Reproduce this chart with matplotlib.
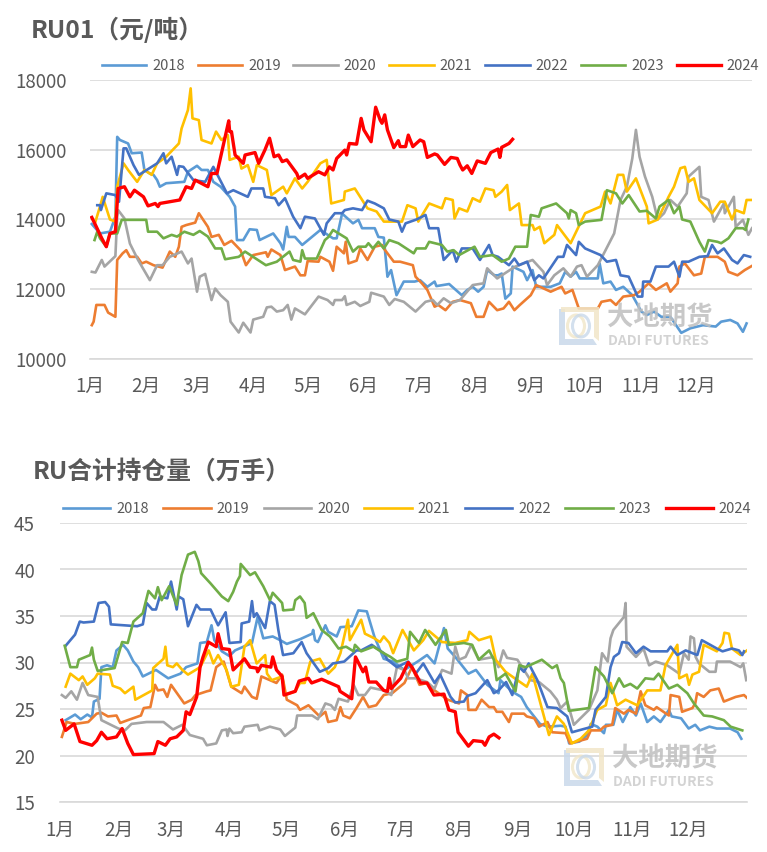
import matplotlib
matplotlib.use('Agg')
import matplotlib.pyplot as plt
from matplotlib.patches import Polygon, Ellipse
from matplotlib.transforms import IdentityTransform

plt.rcParams['font.family'] = ['Noto Sans CJK SC', 'DejaVu Sans']

months = ['1月', '2月', '3月', '4月', '5月', '6月', '7月', '8月', '9月', '10月', '11月', '12月']
month_start = [0, 31, 59, 90, 120, 151, 181, 212, 243, 273, 304, 334]
years = ['2018', '2019', '2020', '2021', '2022', '2023', '2024']
colors = ['#5B9BD5', '#ED7D31', '#A5A5A5', '#FFC000', '#4472C4', '#70AD47', '#FF0000']

# RU01 价格 (元/吨), 横轴为一年中的第几天
p18_d = [1,5.5,11,14,15,16.5,21,23,28.5,30,33,35,37,38.5,42,52,54,59,61.5,65,68,72,77,80,81,84.5,88,92,93.5,101,105,106.5,108.5,109.5,113,117,127,134,136,139,145,148,150,157,159,162,164,166,169,173,179,182,186,190,191,198,205,208,211,214,217,219,223,225,227,229,232,233,239,241,244,246,254,259,262,265,268,270,280,281,283,287,290,294,299,304,307,311,315,320,326,331,338,345,348,353,357,360,362]
p18_v = [13870,13600,13650,14080,16370,16280,16180,15900,15920,15420,15320,15280,15130,14940,15040,15080,15370,15540,15420,15420,15080,14940,14650,14370,13410,13410,13720,13700,13410,13600,13320,13140,13790,13500,13500,13270,13700,13460,13460,14170,13890,13990,13750,13750,13500,13480,12360,12550,11830,12220,12220,12260,12070,12220,12090,12150,11830,11980,12070,11930,12070,12550,12400,12400,12450,11730,11880,12650,12500,12260,12550,12070,12070,12170,12500,12360,12500,12310,12310,12740,12170,12220,11980,12070,11830,11360,11260,11360,11210,11210,10750,10880,10970,10930,11070,11120,11020,10780,11020]
p19_d = [1,2,3.5,8,10,14,15,18,20,22,26,28.5,31,35,40,44,47,49,50.5,53,58,60,65,67,71,74,78,83,86,90,97,98,100,105,107.5,113,116,118.5,120,126,127,132,134,136,140,141,142.5,147,149,153,157,161,162,164,167.5,171,178,179.5,183,186,190,192,196,200,204,210,213,217,220,224.5,228,231,234,237,243,246,254,260,262,266,269.5,280,282,287,290,294,300,303,308,312,318,320,324,325,328,333,337,339,346,350,352,357,361,365]
p19_v = [10970,11070,11550,11550,11330,11210,12840,13030,13120,12930,12930,12740,12790,12690,12620,13080,12930,13220,13790,13840,13910,14180,13790,13500,13560,13270,13390,13120,12690,12980,13060,12930,13140,12980,12550,12650,12400,12400,12810,12790,12930,12790,12530,13220,13030,13360,12740,12820,13170,12840,13220,13270,13170,13030,12790,12790,12690,12360,12170,11980,11500,11550,11400,11640,11690,11600,11210,11210,11640,11400,11450,11640,11400,11550,11830,12120,11930,12070,11880,11980,11450,11450,11640,11690,11550,11790,11830,11930,12170,11980,12170,11930,12170,12650,12740,12400,12450,12930,12930,12790,12500,12400,12550,12670]
p20_d = [1,3,6.5,8,14,15,15.5,19,22,26.5,33,37,40,44,50.5,54,56,59,60.5,63.5,67,69,72,76,77.5,82,84.5,88.5,90,95.5,97.5,100,103,106.5,109,111,113,118.5,126,131,134,135,139,140.5,141.5,146,149,154,155,162,165,168,173,179.5,185,189,191.5,195,199,204,211,217,219,224.5,230,234.5,244,250,252,256,261,265,268.5,271,274,280,289,292.5,296,299,301,303,306,310,313,316.5,320,324,329,330,336,337,341,344,347,349.5,350,355,356,360,363,365]
p20_v = [12500,12480,12840,12650,12950,14080,14270,14030,13310,12840,12260,12690,12690,12930,13080,12740,12880,11930,12360,12440,11690,12020,11830,11640,11070,10760,11040,10760,11130,11210,11480,11500,11360,11400,11550,11130,11450,11280,11790,11690,11550,11690,11690,11800,11550,11640,11520,11640,11900,11790,11550,11720,11640,11360,11640,11690,11550,11740,11600,11690,12120,12170,12600,12310,12500,12650,12840,12500,12120,12400,12600,12360,12650,12690,12360,12690,13600,14560,14940,15750,16570,15800,15230,14650,14000,14180,14560,14370,14750,15230,15510,14650,14560,13940,14220,14460,14180,14650,13790,13990,13560,13750]
p21_d = [3,5.5,7,11,14,15,18.5,21,26,30,34,37,42,49,50.5,54,55.5,56.5,60,61.5,67,69.5,72.5,76,77,82,83.5,87,90,92,97.5,100,106.5,108.5,113,117,120,127,130.5,133,140,140.5,146,153,158,162,167.5,172,175,179.5,181,187,194,196,200,201,203.5,208,211,215,218,222.5,223.5,227,230,231.5,236.5,238,244,245,248,250.5,256,257.5,265,273,281.5,284,287,291,294,296,301,307,308,313,319,322,325.5,328,330,333,336,343,347.5,350,354,356,360.5,362,365]
p21_v = [13940,14370,14650,14000,13940,14940,15610,15420,15080,15420,15280,15610,15800,16180,16610,17140,17760,16900,16850,16280,16180,16520,16280,16420,15710,15800,15460,15560,15080,15560,15420,14700,14940,14750,15180,14890,15080,15610,15710,14460,14560,14800,14890,14320,14230,13940,13940,13940,14410,14320,13940,14460,14320,14610,14560,14030,14320,14230,14610,14510,14890,14840,14650,14800,14990,14270,14460,13840,13840,13700,13790,13320,13560,13840,13320,14180,14370,14800,14460,15280,15280,14800,15180,14370,13890,14000,14650,14940,15470,15510,15080,15180,14560,14180,14510,14510,14000,14270,14180,14560,14560]
p22_d = [4,5.5,6,9,14,16,18.5,20,24,27,37,40.5,42,45,48,49,51.5,57,63.5,68,75.5,79,87,89,95.5,96.5,102,104,107.5,112,116,118.5,124,129,130.5,135,139,140.5,145,150,153,157,162,165,170,172,174,180,185,187,192,195,200,202,205,211,215,220,222,225,231,234,236.5,241,245,247.5,250,258,261,263,268,269.5,273,281.5,285,290,292.5,297,302,304.5,305,309,312,319,322,325,326.5,330,336,340.5,343,346,349.5,354,357,360.5,364]
p22_v = [14410,14410,14270,14750,14700,14510,16040,16040,15560,15280,15610,15900,15610,15800,15280,15530,15510,15130,15080,15510,14750,14840,14650,14890,14890,14650,14610,14410,14610,14080,13750,14080,14030,13560,13890,14180,14180,14270,14320,14270,14540,14460,14320,14000,13940,13650,13890,14000,14130,13750,13750,12840,13120,12790,13170,13170,12840,13270,12980,12930,12690,12880,12690,12790,12260,12400,12310,12930,12930,13270,12980,13360,13170,12980,12790,12840,12400,12360,11790,11790,12220,12220,12650,12650,12790,12360,12790,12790,12930,12950,13270,13030,13170,12840,12740,12980,12930]
p23_d = [2.5,4,5.5,9,11,15,17.5,31,32,37,40.5,45,48,52,57,60.5,65,69,72.5,74.5,82,85.5,97,103,110,112,116,117,118.5,125,129.5,131.5,134,141.5,145,148,152,153.5,156,159,162,165,170,178.5,180,185,187,194,197,200.5,203.5,212,215,222,227,231,234.5,241,243,247.5,249,257,263,264,265,268,269.5,273,282,285,290,293.5,297,303,307,312,314,319,322,325,326.5,331,336,339,341,346,348,352,356,360,361.5,363]
p23_v = [13410,13650,13460,13220,13600,13600,13990,13990,13650,13650,13460,13560,13510,13650,13560,13670,13510,13170,13170,12860,12930,13080,12690,12790,13080,12840,12790,13120,12880,12880,13410,13500,13700,13460,13080,13220,13220,13320,13170,13360,13170,13410,13320,13030,13170,13170,13360,13270,13080,13120,12980,13220,12930,12980,12790,12880,13220,13220,14130,14080,14320,14460,14180,14030,14270,14180,13840,13940,13990,14840,14750,14460,14700,14230,14250,14030,14370,14560,14180,14370,14000,13940,13360,13080,13410,13360,13320,13460,13750,13750,13700,14000]
p24_d = [1,3.5,6.5,9,11,14,15.5,19,22,24.5,29.5,32,36,37.5,38.5,49.5,53,56,58,65,67,70,72.5,76.5,77,78,80,84.5,85.5,91,93,96.5,99,101.5,104,106,108.5,114,115,118.5,120,126,129.5,132,134,136,140.5,141.5,143,147,149.5,151,155,157.5,160,161,162.5,164,167.5,170,171,174,175.5,178,182,184,186,190,191.5,195.5,199,202.5,204,205.5,208,210.5,213.5,218,221,225,226,227,231,233]
p24_v = [14060,13790,13460,13220,13600,13650,14890,14940,14650,14840,14650,14390,14460,14370,14460,14560,14940,14890,15130,14940,15320,15320,15900,16830,16520,16520,15850,15610,15850,15920,15610,16000,16330,15800,15850,15660,15710,15320,15180,15300,15180,15370,15280,15510,15420,15750,15990,15850,16180,16160,16900,16570,16230,17220,16850,16760,17000,16570,16060,16260,16090,16090,16420,16090,16280,16230,15780,15880,15850,15580,15780,15750,15560,15420,15540,15320,15680,15610,15920,16020,15780,16070,16180,16300]

# RU 合计持仓量 (万手)
o18_d = [3,8,11,14.5,17,18,21,22,25,28,30,33.5,36,39,41.5,44,51,57.5,64,67,73,74.5,78,80.5,82,86,90,93,102,105,108,113,117,120.5,127.5,134,134.5,135.5,137,141,142.5,147,149,155,158.5,163,167,172,177,183,190,195,199,204,206,210,217,221,227,233,234,240,245,248,255,259,266,268.6,270.5,276,280,282,285.5,289,290,294,296,299,303,306,308.5,312,315.5,319,323.5,325,330,334,337.5,340,345,349,356,360,362]
o18_v = [23.8,24.4,23.9,24.4,24.1,25.8,26.1,29.5,29.7,29.5,31.3,31.9,31.3,30.1,29.5,28.5,29.2,28.3,28.8,29.5,29.9,32.1,32.2,34.0,32.4,31.2,30.7,31.3,32.1,34.9,32.6,32.8,32.4,32.0,32.5,33.1,33.5,32.4,32.2,34.0,33.3,32.8,33.8,33.9,35.6,35.5,32.8,30.4,30.1,29.2,30.1,30.8,29.9,33.7,31.5,30.6,28.8,29.2,27.6,26.7,28.1,26.9,26.3,25.2,23.4,23.1,23.2,23.1,21.3,21.5,22.2,23.4,23.1,22.4,23.3,23.3,24.9,23.6,25.2,24.3,25.6,23.6,24.2,23.6,24.9,24.2,24.0,22.9,23.3,22.7,23.1,22.9,22.9,22.5,21.8]
o19_d = [1,3.5,8,15,19.5,22,25.5,30,32,36,43,44.5,48,50.5,52,55,57,59,66,70,72,78,80,83,87,91,96.5,98,102,104.5,107,115,118,120.5,126,127.5,132,135.5,138,141,142.5,147,149,150.5,154,157.5,161,164,168,172,176.5,183,187,191,195,199,206,212,213,216.4,217,221,224,228,230.5,232,235,238.5,240,246.5,248,252,254.5,259,261.5,268.6,271,280,282,287,289,293.4,295,299.6,302,306,308.5,311,315.5,317,323.5,324.4,329,330.5,336,337.5,338.5,342,345.5,350,352.7,359,363.4,365]
o19_v = [22.0,23.6,23.4,23.6,24.5,24.6,24.2,24.3,23.5,23.8,24.3,25.1,25.2,27.6,27.0,27.1,26.3,27.6,25.6,26.0,26.5,26.9,27.0,29.5,30.1,27.4,26.7,27.4,26.3,26.1,28.5,27.8,28.7,26.0,25.4,24.9,25.4,24.7,24.2,24.7,23.6,23.8,25.2,24.3,24.0,25.1,26.3,25.2,25.4,26.5,26.7,27.8,29.5,27.6,27.8,27.0,26.0,25.6,27.0,26.5,24.9,24.9,26.0,25.2,25.2,24.7,24.7,23.6,24.5,24.5,24.2,24.0,23.1,23.6,22.5,22.4,21.3,21.8,22.7,22.7,23.1,23.3,25.1,24.5,24.9,24.5,26.9,25.4,24.9,25.2,24.3,26.5,26.3,24.7,25.1,25.6,26.7,26.3,27.0,27.2,25.8,26.3,26.5,26.2]
o20_d = [1,3,6,9,12,15,20,22,31,34.5,38,46,55,60,65,69,76,78,83,86,88.5,89,90,92,96.5,98,105,106,111.5,117,119.5,125,126,130,134,137,141,144,146,148,153,156,158.5,162,165,172,176,179,183,185,189,195,199,203,208,210,212,215.5,218.5,222.5,230.5,233,235.5,237.5,243,246.5,250,254.5,260.5,264,266,269.5,273,281,285.5,288,291,292.5,294,299.6,300.5,301,306,310,313,316.5,322.6,329,331.5,334,335,336.8,337.7,339.5,345,348.3,349,356,361.6,363,364.6]
o20_v = [26.5,26.2,26.9,26.0,27.8,26.5,26.3,23.8,22.9,22.7,23.4,23.6,23.6,22.8,23.3,22.2,21.8,21.1,21.3,22.7,22.8,22.1,22.9,22.4,22.5,23.1,23.3,22.7,23.1,22.8,22.1,23.0,24.3,24.3,24.3,23.9,25.6,25.4,24.9,26.1,25.8,27.6,26.5,26.5,27.3,27.0,26.5,29.5,29.2,28.3,28.3,27.9,27.2,29.2,28.8,31.7,30.3,30.6,31.9,30.3,30.6,29.5,31.3,30.5,30.3,29.2,28.1,27.9,26.9,26.0,25.1,25.8,23.3,24.9,27.0,31.0,30.1,32.6,33.5,34.9,36.4,31.7,30.6,31.5,29.7,30.1,29.7,28.8,31.0,30.3,32.8,32.6,30.6,29.9,29.0,29.0,30.1,30.1,29.5,29.9,28.1]
o21_d = [3,5.5,10,12,14.5,18.5,20,26.5,28,32,34.5,39,40,49,49.5,55,56,57,60,62,65,68,74.5,79,81.5,84,88.5,91,95,98,101,104.5,109,110,112.5,118,119.5,125,127.5,130,133,138,142.5,146,149,153,154,160,162,167,170,172,175,177,182,188,193,196,203,210,216.4,217.5,222.5,228.8,231.5,236.7,243,248,251,259.8,264,267.7,272,276.6,281,285.4,290,292.5,296,300.5,306.7,312,319,321.7,328,329,333,334.2,336,339.5,342,349,352,353,355.4,357,361.6,365]
o21_v = [27.4,28.8,28.1,28.5,27.6,28.3,28.8,28.7,27.5,27.2,26.7,27.4,26.0,27.0,29.4,30.4,31.7,29.7,29.5,29.9,29.2,28.7,29.5,31.3,29.9,30.8,29.2,27.4,27.6,31.7,32.4,29.9,30.8,28.8,28.1,28.5,26.5,26.9,27.8,27.8,30.1,30.4,28.8,29.5,31.0,34.6,32.4,34.6,33.1,32.6,32.2,32.8,32.1,31.0,33.5,31.3,32.4,33.4,32.2,32.1,32.4,33.3,32.4,32.8,30.3,29.0,28.1,27.4,28.8,22.2,24.2,23.4,21.3,21.8,22.7,24.9,25.4,27.8,25.4,26.0,25.4,27.0,27.0,29.7,31.9,28.3,28.7,27.6,28.7,29.0,31.9,31.2,32.1,33.2,33.1,31.5,30.8,31.3]
o22_d = [3,5.5,8,10.5,12.5,18,20.5,24,26,27,41,44,46,49,51,53,57,59,62,63,65.5,68,72.5,74.5,80,84,88,90,96,96.5,100.5,102,103,104.5,109,111.5,114,116,118.5,124,128.4,131,138,142.5,145,151,157.5,160,165.6,172,174,179,185,189,193,199,202,207.5,210,214.6,216.4,220.8,227,230.5,233,237,240.3,244,246.5,249,253.6,259,264,269.5,272,282.8,284.5,290,292.5,294.3,297,298.7,302,306,310,313.8,322.6,324.4,328,332.4,338.6,341,349,352,357,360.7,362.5,363.4]
o22_v = [31.8,32.4,33.0,34.4,34.3,34.4,36.4,36.5,36.0,34.1,33.9,34.1,36.4,35.7,35.7,37.1,36.9,38.7,35.7,37.1,36.8,33.9,36.2,35.7,35.7,34.0,35.4,32.1,32.2,34.2,34.4,36.6,34.9,35.3,33.7,36.6,36.2,33.5,30.8,31.0,32.2,31.0,29.0,29.4,29.9,30.1,31.3,31.3,31.9,31.0,30.3,29.5,30.1,28.8,29.9,27.8,28.7,26.3,25.7,25.8,26.4,26.7,28.1,26.7,27.0,27.9,26.5,29.5,29.0,29.9,28.1,25.2,25.1,24.2,22.5,23.1,24.9,26.3,29.5,30.6,31.0,32.2,32.1,31.0,31.7,31.2,31.2,31.7,30.8,31.3,30.8,32.4,31.5,31.2,31.5,31.3,30.8,31.2]
o23_d = [2.5,5.5,9,10,16,17,18,20,29,33,36,39,44,47,50.5,52,54,58,62,64.6,68,71.6,73.5,75,80,86,89.4,92,94,95.6,96,101,103.6,108,111.6,113,118,118.6,124,125,127.5,130,131,134.6,139,143.4,148,152,156,156.7,160,166.5,172,175.6,179,184.5,186,190.7,194,199.5,205,206.6,214.6,219,222.5,228,230.5,232,236.7,242,244,247.4,256,261.5,264,266,267.7,270.4,281,284.5,289,293.4,297,299.6,303,306.7,311,315.5,318,323.5,328,333.3,336.8,342,346.5,352.7,356.3,362.5]
o23_v = [31.8,29.5,29.5,30.3,30.8,31.6,30.3,29.1,29.4,32.2,32.1,34.4,35.3,37.7,36.9,38.1,36.7,38.2,36.2,39.4,41.6,41.9,40.9,39.6,38.5,37.1,36.6,37.6,38.7,39.3,40.6,39.4,39.7,38.2,36.7,37.5,36.4,35.6,35.7,36.7,37.1,36.4,34.8,35.3,33.5,32.8,31.5,31.7,31.2,31.9,31.2,31.7,31.0,30.6,30.1,30.4,33.3,32.1,33.5,31.9,33.5,31.9,32.1,31.9,30.3,31.3,30.3,28.1,28.8,26.9,29.7,29.5,30.3,29.4,29.7,28.3,27.8,24.8,25.1,29.5,28.5,26.7,28.3,27.4,27.7,27.2,28.3,28.2,28.8,27.2,27.6,26.7,25.6,24.3,24.2,23.8,23.1,22.7]
o24_d = [1,3,7.5,10.6,17,19.5,22,25,30,33,36,39,50,52,56,58.5,62,65.5,67,69,72.6,74.4,76,78.8,83,84,86,90,92,98,101,104.5,105,107,112,113,115,118,119,125,127,132,133.7,139,148,148.8,155,157,161,162.4,164,168,172,174,175,176,181,185,187,191.6,195,198.7,204,206.6,210,211.5,217,219.6,224.4,225.8,228,230.5,233.2]
o24_v = [23.8,22.7,23.4,21.5,21.1,21.6,22.5,21.8,22.0,22.9,21.3,20.1,20.2,21.5,21.1,21.8,22.0,22.7,24.7,24.4,26.3,29.5,30.6,32.2,31.7,33.1,31.5,31.4,29.2,30.4,29.5,29.4,29.0,29.7,29.5,30.6,29.2,28.5,26.5,26.9,28.0,28.3,27.8,28.2,27.4,26.9,26.1,30.6,29.0,29.5,27.9,27.9,27.0,26.9,28.3,27.2,28.3,30.0,29.5,27.8,27.8,26.5,26.6,24.9,24.7,22.5,21.0,21.6,21.5,21.1,22.0,22.3,21.9]

price = [(p18_d, p18_v), (p19_d, p19_v), (p20_d, p20_v), (p21_d, p21_v), (p22_d, p22_v), (p23_d, p23_v), (p24_d, p24_v)]
hold = [(o18_d, o18_v), (o19_d, o19_v), (o20_d, o20_v), (o21_d, o21_v), (o22_d, o22_v), (o23_d, o23_v), (o24_d, o24_v)]

W, H = 767, 852
fig = plt.figure(figsize=(W / 100, H / 100), dpi=100, facecolor='white')
gray = '#595959'


def panel(left, right, top, bottom, series, ylim, step, hlen, cspace, leg_x, leg_y, xpad, ypad):
    ax = fig.add_axes([left / W, 1 - bottom / H, (right - left) / W, (bottom - top) / H])
    for (d, v), c, y in zip(series, colors, years):
        lw = 2.4 if y == '2024' else 1.9
        ax.plot(d, v, color=c, lw=lw, label=y, solid_joinstyle='round')
    ax.set_xlim(0, 365)
    ax.set_ylim(*ylim)
    ax.set_yticks(range(ylim[0], ylim[1] + 1, step))
    ax.set_xticks(month_start)
    ax.set_xticklabels(months)
    ax.grid(axis='y', color='#D9D9D9', lw=1.2)
    ax.set_axisbelow(True)
    for s in ['top', 'right', 'left']:
        ax.spines[s].set_visible(False)
    ax.spines['bottom'].set_color('#D9D9D9')
    ax.spines['bottom'].set_linewidth(1.2)
    ax.tick_params(length=0, labelcolor=gray, labelsize=13.5)
    ax.tick_params(axis='x', pad=xpad)
    ax.tick_params(axis='y', pad=ypad)
    fig.legend(*ax.get_legend_handles_labels(), loc='center left',
               bbox_to_anchor=(leg_x / W, 1 - leg_y / H), ncol=7, frameon=False,
               fontsize=10.5, labelcolor=gray, handlelength=hlen, handletextpad=0.4,
               columnspacing=cspace, borderpad=0, borderaxespad=0)
    return ax


panel(90, 752, 80, 359, price, (10000, 18000), 2000, 3.05, 0.88, 102, 66, 12, 17)
panel(60, 747, 523, 802, hold, (15, 45), 5, 3.25, 1.0, 63, 509, 13, 18)

fig.text(31 / W, 1 - 30 / H, 'RU01（元/吨）', fontsize=17.8, fontweight='bold', color=gray, va='center')
fig.text(33 / W, 1 - 472 / H, 'RU合计持仓量（万手）', fontsize=17.8, fontweight='bold', color=gray, va='center')


# 水印
def watermark(x, y):
    logo_blue = [(x, y), (x + 6, y), (x + 6, y + 30), (x + 34, y + 30), (x + 38, y + 36), (x, y + 36)]
    logo_tan = [(x + 2, y - 2), (x + 40, y - 2), (x + 40, y + 32), (x + 35, y + 28), (x + 35, y + 3), (x + 2, y + 3)]
    for pts, c in [(logo_blue, '#C9D9EA'), (logo_tan, '#F1E6C8')]:
        fig.add_artist(Polygon([(a / W, 1 - b / H) for a, b in pts], closed=True, transform=fig.transFigure,
                               facecolor=c, edgecolor='none', alpha=0.85, zorder=5))
    for dx, c in [(-2, '#F1E6C8'), (3, '#C9D9EA')]:
        fig.add_artist(Ellipse((x + 19 + dx, H - (y + 17)), 17, 22, transform=IdentityTransform(),
                               fill=False, edgecolor=c, lw=2.2, alpha=0.8, zorder=5))
    fig.text((x + 48) / W, 1 - (y + 9) / H, '大地期货', fontsize=19, fontweight='bold', color='#BFBFBF',
             va='center', alpha=0.85, zorder=6)
    fig.text((x + 49) / W, 1 - (y + 32) / H, 'DADI FUTURES', fontsize=10, fontweight='bold', color='#CFCFCF',
             va='center', alpha=0.9, zorder=6)


watermark(559, 309)
watermark(564, 750)

fig.savefig('out.png', dpi=100)
